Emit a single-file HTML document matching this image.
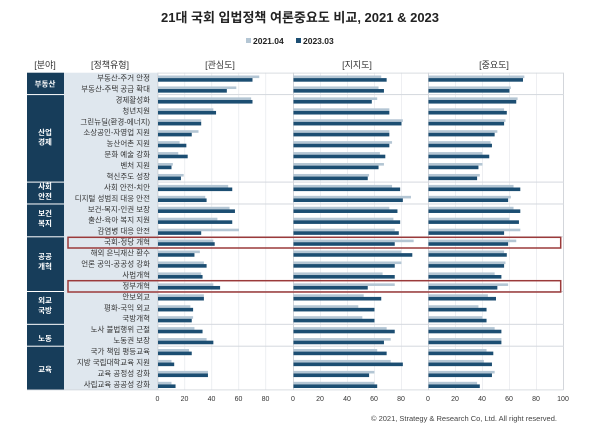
<!DOCTYPE html>
<html><head><meta charset="utf-8">
<style>
html,body{margin:0;padding:0;background:#fff;}
svg{display:block;font-family:"Liberation Sans","Noto Sans CJK KR",sans-serif;}
</style></head>
<body>
<svg id="s" width="600" height="434" viewBox="0 0 600 434" xmlns="http://www.w3.org/2000/svg">
<rect width="600" height="434" fill="#fff"/>
<text x="300" y="22" font-size="13" font-weight="bold" text-anchor="middle" fill="#222">21대 국회 입법정책 여론중요도 비교, 2021 &amp; 2023</text>
<rect x="246" y="38" width="5" height="5" fill="#b4c6d4"/>
<text x="253" y="44" font-size="8.5" font-weight="bold" fill="#222">2021.04</text>
<rect x="296" y="38" width="5" height="5" fill="#1c4e72"/>
<text x="303" y="44" font-size="8.5" font-weight="bold" fill="#222">2023.03</text>
<g font-size="9" fill="#333" text-anchor="middle">
<text x="45" y="68">[분야]</text>
<text x="110" y="68">[정책유형]</text>
<text x="220" y="68">[관심도]</text>
<text x="357" y="68">[지지도]</text>
<text x="494" y="68">[중요도]</text>
</g>
<rect x="27" y="72.7" width="37" height="317.3" fill="#173d5a"/>
<rect x="64" y="72.7" width="93.5" height="317.3" fill="#dfe7ee"/>
<g id="grid"></g>
<g id="bars"></g>
<g font-size="7.5" fill="#333" text-anchor="end">
<text x="150" y="80.5">부동산-주거 안정</text>
<text x="150" y="91.4">부동산-주택 공급 확대</text>
<text x="150" y="102.4">경제활성화</text>
<text x="150" y="113.3">청년지원</text>
<text x="150" y="124.3">그린뉴딜(환경-에너지)</text>
<text x="150" y="135.2">소상공인-자영업 지원</text>
<text x="150" y="146.1">농산어촌 지원</text>
<text x="150" y="157.1">문화 예술 강화</text>
<text x="150" y="168.0">벤처 지원</text>
<text x="150" y="179.0">혁신주도 성장</text>
<text x="150" y="189.9">사회 안전-치안</text>
<text x="150" y="200.8">디지털 성범죄 대응 안전</text>
<text x="150" y="211.8">보건-복지-인권 보장</text>
<text x="150" y="222.7">출산-육아 복지 지원</text>
<text x="150" y="233.7">감염병 대응 안전</text>
<text x="150" y="244.6">국회-정당 개혁</text>
<text x="150" y="255.6">해외 은닉재산 환수</text>
<text x="150" y="266.5">언론 공익-공공성 강화</text>
<text x="150" y="277.4">사법개혁</text>
<text x="150" y="288.4">정부개혁</text>
<text x="150" y="299.3">안보외교</text>
<text x="150" y="310.3">평화-국익 외교</text>
<text x="150" y="321.2">국방개혁</text>
<text x="150" y="332.1">노사 불법행위 근절</text>
<text x="150" y="343.1">노동권 보장</text>
<text x="150" y="354.0">국가 책임 평등교육</text>
<text x="150" y="365.0">지방 국립대학교육 지원</text>
<text x="150" y="375.9">교육 공정성 강화</text>
<text x="150" y="386.8">사립교육 공공성 강화</text>
</g>
<g font-size="7.5" fill="#fff" font-weight="bold" text-anchor="middle">
<text x="45" y="86.5">부동산</text>
<text x="45" y="135">산업</text><text x="45" y="144.5">경제</text>
<text x="45" y="189">사회</text><text x="45" y="199">안전</text>
<text x="45" y="216">보건</text><text x="45" y="226">복지</text>
<text x="45" y="259">공공</text><text x="45" y="269">개혁</text>
<text x="45" y="303">외교</text><text x="45" y="313">국방</text>
<text x="45" y="341">노동</text>
<text x="45" y="372">교육</text>
</g>
<g font-size="7" fill="#333" text-anchor="middle">
<text x="157.5" y="401">0</text><text x="184.5" y="401">20</text><text x="211.5" y="401">40</text><text x="238.5" y="401">60</text><text x="265.5" y="401">80</text>
<text x="293" y="401">0</text><text x="320" y="401">20</text><text x="347" y="401">40</text><text x="374" y="401">60</text><text x="401" y="401">80</text>
<text x="428" y="401">0</text><text x="455" y="401">20</text><text x="482" y="401">40</text><text x="509" y="401">60</text><text x="536" y="401">80</text><text x="563" y="401">100</text>
</g>
<text x="557" y="421" font-size="7.5" fill="#444" text-anchor="end">© 2021, Strategy &amp; Research Co, Ltd. All right reserved.</text>
<rect x="68" y="237.3" width="492.7" height="10.7" fill="none" stroke="#9b3a3a" stroke-width="1.5"/>
<rect x="68" y="280.7" width="492.7" height="11.3" fill="none" stroke="#9b3a3a" stroke-width="1.5"/>
</svg>
<script>
var d=[
[[75,70],[65,69],[71,70]],[[58,51],[63,67],[61,60]],[[69,70],[62,58],[66,65]],[[41,43],[71,71],[56,58]],
[[32,32],[81,80],[57,56]],[[30,25],[71,71],[51,49]],[[16,21],[73,71],[46,47]],[[15,22],[64,68],[40,45]],
[[11,10],[67,63],[40,37]],[[19,17],[56,55],[38,36]],[[52,55],[73,79],[63,68]],[[35,36],[87,81],[61,59]],
[[53,57],[71,77],[63,68]],[[44,55],[74,79],[60,67]],[[60,32],[75,78],[68,56]],[[41,42],[89,75],[65,59]],
[[31,27],[80,88],[56,58]],[[34,36],[80,75],[57,56]],[[32,33],[66,75],[49,54]],[[41,46],[75,55],[59,51]],
[[34,34],[52,65],[44,50]],[[24,26],[48,60],[37,43]],[[26,25],[51,60],[40,43]],[[27,33],[69,75],[49,54]],
[[36,41],[72,67],[54,54]],[[23,25],[62,69],[43,48]],[[10,12],[72,81],[41,47]],[[37,37],[60,56],[49,47]],[[10,13],[60,62],[36,38]]];
var ns="http://www.w3.org/2000/svg",B=document.getElementById("bars"),G=document.getElementById("grid");
function r(p,x,y,w,h,f){var e=document.createElementNS(ns,"rect");e.setAttribute("x",x);e.setAttribute("y",y);e.setAttribute("width",w);e.setAttribute("height",h);e.setAttribute("fill",f);p.appendChild(e);}
var x0=[157.5,293,428],T=72.7,H=10.94;
for(var p=0;p<3;p++){for(var k=1;k<5;k++)r(G,x0[p]+k*27,T,0.6,317.3,"#e2e4e8");r(G,x0[p],T,0.8,317.3,"#c8ccd2");}
r(G,563,T,0.8,317.3,"#c8ccd2");r(G,157.5,T,406,0.8,"#d0d4da");r(G,27,389.5,536.5,0.8,"#d0d4da");
[2,10,12,15,20,23,25].forEach(function(i){var y=T+i*H;r(G,27,y-0.5,37,1,"#fff");r(G,157.5,y-0.5,406,1,"#d4d8de");});
for(var i=0;i<29;i++){var y=T+i*H;for(var p=0;p<3;p++){r(B,x0[p]+0.5,y+2.8,d[i][p][0]*1.35,2.6,"#b4c6d4");r(B,x0[p]+0.5,y+5.4,d[i][p][1]*1.35,3.6,"#1c4e72");}}
</script>
</body></html>
